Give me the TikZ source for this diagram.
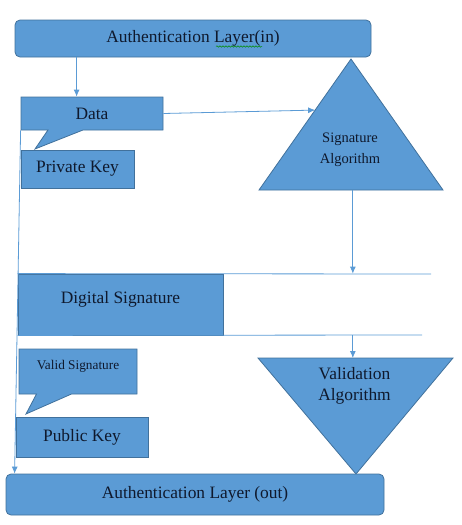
\documentclass[tikz,border=0pt]{standalone}
\usepackage{fontspec}
\setmainfont{Liberation Serif}
\usetikzlibrary{shapes.geometric, shapes.callouts, arrows.meta, positioning, calc, decorations.pathmorphing}
\definecolor{boxblue}{RGB}{91,155,213}
\definecolor{edgeblue}{RGB}{65,113,156}
\definecolor{textnavy}{RGB}{15,25,45}

\begin{document}
\begin{tikzpicture}[x=1pt, y=-1pt, line width=0.8pt,
        box/.style={rectangle, draw=edgeblue, fill=boxblue, text=textnavy, inner sep=0pt, font=\fontsize{17.4}{21}\selectfont},
        layer/.style={box, rounded corners=5pt},
        note/.style={box, rectangle callout, callout pointer width=35pt},
        link/.style={draw=boxblue, -{Latex[length=7pt,width=6pt]}}]
    \useasboundingbox (0,0) rectangle (462,525);

    \node[layer, minimum width=356, minimum height=37] (authin) at (193,38.5) {Authentication Layer(in)};
    \draw[green!55!black, line width=0.5pt, decorate, decoration={snake, amplitude=0.7pt, segment length=3pt}] (216,46.5) -- (262,46.5);

    \node[note, minimum width=142, minimum height=33, callout absolute pointer={(35,149)}] (data) at (92,113.5) {Data};
    \node[box, minimum width=113, minimum height=38] (privkey) at (77.5,169) {Private Key};

    % signature triangle
    \coordinate (sa) at (351,59);
    \coordinate (sl) at (259,190);
    \coordinate (sr) at (443,190);
    \filldraw[draw=edgeblue, fill=boxblue] (sa) -- (sl) -- (sr) -- cycle;
    \node[text=textnavy, align=center, font=\fontsize{14.5}{21}\selectfont] (signalg) at (350,149.5) {Signature\\Algorithm};
    \coordinate (sigin) at ($(sa)!0.39!(sl)$);
    \coordinate (sigout) at ($(sl)!0.51!(sr)$);

    % digital signature store
    \node[box, minimum width=205, minimum height=61, text height=12pt, text depth=15pt] (digsig) at (120.5,304.5) {Digital Signature};
    \coordinate (storetop) at (431,274);
    \coordinate (storebot) at (422,335);
    \draw[boxblue] (digsig.north west) -- (storetop);
    \draw[boxblue] (digsig.south west) -- (storebot);

    \node[note, minimum width=118, minimum height=45, text height=9pt, text depth=14pt, font=\fontsize{13.3}{16}\selectfont, callout absolute pointer={(26,414)}] (valid) at (78,371.5) {Valid Signature};
    \node[box, minimum width=132, minimum height=40] (pubkey) at (82,437) {Public Key};

    % validation triangle
    \coordinate (vl) at (258,358);
    \coordinate (vr) at (453,358);
    \coordinate (va) at (356,474);
    \filldraw[draw=edgeblue, fill=boxblue] (vl) -- (vr) -- (va) -- cycle;
    \node[text=textnavy, align=center, font=\fontsize{17.4}{21}\selectfont] (valalg) at (354.5,385.5) {Validation\\Algorithm};

    \node[layer, minimum width=378, minimum height=41] (authout) at (195,494.5) {Authentication Layer (out)};

    \draw[link] ($(authin.south west)+(62,0)$) -- ($(data.north west)+(56,0)$);
    \draw[link] (data.east) -- (sigin);
    \draw[link] (sigout) -- (sigout |- digsig.north);
    \draw[link] (sigout |- digsig.south) -- (sigout |- vl);
    \draw[link] (data.south west) -- ($(authout.north west)+(9,0)$);
\end{tikzpicture}
\end{document}
